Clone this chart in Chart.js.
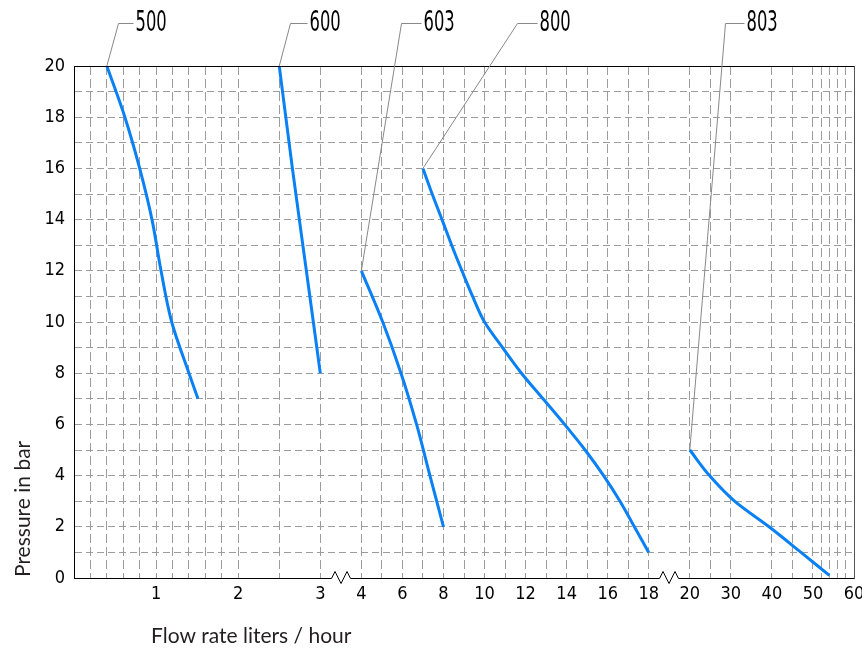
<!DOCTYPE html>
<html>
<head>
<meta charset="utf-8">
<script src="https://cdn.jsdelivr.net/npm/chart.js@4"></script>
<style>
  html, body { margin: 0; padding: 0; background: #fff; }
</style>
</head>
<body>
<canvas id="myChart" width="862" height="648"></canvas>
<script>
// curve data: flow rate (l/h) and pressure (bar)
const seriesNames = ["500", "600", "603", "800", "803"];
const flow500 = [0.4, 0.62, 0.8, 0.95, 1.06, 1.19, 1.4, 1.51];
const bar500 = [20, 18, 16, 14, 12, 10, 8, 7];
const flow600 = [2.5, 2.66, 2.83, 3];
const bar600 = [20, 16, 12, 8];
const flow603 = [4, 5.04, 5.93, 6.69, 7.34, 8];
const bar603 = [12, 10, 8, 6, 4, 2];
const flow800 = [7, 7.45, 7.93, 8.4, 8.9, 9.42, 10, 10.88, 11.8, 12.85, 13.9, 14.9, 15.8, 16.6, 17.3, 18];
const bar800 = [16, 15, 14, 13, 12, 11, 10, 9, 8, 7, 6, 5, 4, 3, 2, 1];
const flow803 = [20, 24.8, 30.9, 39.3, 47.1, 54];
const bar803 = [5, 4, 3, 2, 1, 0.1];

// axis ticks
const xGridValues = [0.2, 0.4, 0.6, 0.8, 1, 1.2, 1.4, 1.6, 1.8, 2, 2.5, 3,
  4, 5, 6, 7, 8, 9, 10, 11, 12, 13, 14, 15, 16, 17, 18,
  20, 25, 30, 40, 45, 50, 52, 54, 56, 58, 60];
const xTickLabels = [1, 2, 3, 4, 6, 8, 10, 12, 14, 16, 18, 20, 30, 40, 50, 60];
const yGridValues = [0, 1, 2, 3, 4, 5, 6, 7, 8, 9, 10, 11, 12, 13, 14, 15, 16, 17, 18, 19, 20];
const yTickLabels = [0, 2, 4, 6, 8, 10, 12, 14, 16, 18, 20];

// broken x axis: [from, to, position units per l/h]
const xSegments = [[0, 3, 4], [4, 18, 1], [20, 60, 0.2]];
const gap = 2;

const toPos = (v) => {
  let pos = 0;
  for (const [from, to, k] of xSegments) {
    if (v <= to) return pos + (v - from) * k;
    pos += (to - from) * k + gap;
  }
  return pos - gap;
};
const breakPos = [];
(() => {
  let pos = 0;
  xSegments.forEach(([from, to, k], i) => {
    pos += (to - from) * k;
    if (i < xSegments.length - 1) { breakPos.push(pos + gap / 2); pos += gap; }
  });
})();
const xMax = toPos(60);

const blue = "#0a80f5";
const tickFont = { family: "'Liberation Sans Narrow', 'DejaVu Sans Condensed', 'Liberation Sans', sans-serif", size: 18 };
const titleFont = "21px Lato, 'Open Sans', sans-serif";

const flows = [flow500, flow600, flow603, flow800, flow803];
const bars = [bar500, bar600, bar603, bar800, bar803];

// callout leader offsets (px)
const calloutDx = [11, 11, 40, 94, 35];
const calloutLen = [15, 17, 20, 20, 19];

const calloutPlugin = {
  id: "callouts",
  afterDraw(chart) {
    const { ctx, chartArea: a, scales: { x, y } } = chart;
    ctx.save();
    const top = Math.round(a.top) + 0.5;
    const bottom = Math.round(y.getPixelForValue(0)) + 0.5;
    const right = Math.round(a.right) + 0.5;
    const left = Math.round(a.left) + 0.5;

    // frame
    ctx.lineWidth = 1;
    ctx.strokeStyle = "#000";
    ctx.beginPath();
    ctx.moveTo(left, top);
    ctx.lineTo(right, top);
    ctx.stroke();
    ctx.strokeStyle = "#555";
    ctx.beginPath();
    ctx.moveTo(right, top);
    ctx.lineTo(right, bottom);
    ctx.stroke();

    // x axis with zigzag breaks
    ctx.strokeStyle = "#000";
    ctx.beginPath();
    ctx.moveTo(left, bottom);
    breakPos.forEach((p) => {
      const bx = Math.round(x.getPixelForValue(p));
      ctx.lineTo(bx - 9.5, bottom);
      ctx.lineTo(bx - 6, bottom - 7);
      ctx.lineTo(bx, bottom + 5);
      ctx.lineTo(bx + 6, bottom - 7);
      ctx.lineTo(bx + 9.5, bottom);
    });
    ctx.lineTo(right, bottom);
    ctx.stroke();

    // callouts
    const labelY = 23.5;
    ctx.font = "29px " + tickFont.family;
    ctx.textBaseline = "middle";
    ctx.fillStyle = "#000";
    seriesNames.forEach((name, i) => {
      const px = x.getPixelForValue(toPos(flows[i][0]));
      const py = y.getPixelForValue(bars[i][0]);
      const ex = Math.round(px + calloutDx[i]) + 0.5;
      const hx = ex + calloutLen[i];
      ctx.strokeStyle = "#888";
      ctx.lineWidth = 1;
      ctx.beginPath();
      ctx.moveTo(px, py);
      ctx.lineTo(ex, labelY);
      ctx.lineTo(hx, labelY);
      ctx.stroke();
      const w = ctx.measureText(name).width;
      const sx = (10.4 * name.length) / w;
      ctx.save();
      ctx.translate(hx + 2, labelY);
      ctx.scale(sx, 1);
      ctx.fillText(name, 0, 0);
      ctx.restore();
    });

    // axis titles
    ctx.font = titleFont;
    ctx.fillStyle = "#231f20";
    ctx.textBaseline = "alphabetic";
    ctx.textAlign = "left";
    ctx.fillText("Flow rate liters / hour", 151, 642.5);
    ctx.save();
    ctx.translate(30, 577);
    ctx.rotate(-Math.PI / 2);
    ctx.fillText("Pressure in bar", 0, 0);
    ctx.restore();
    ctx.restore();
  }
};

const ctx = document.getElementById("myChart");

const myChart = new Chart(ctx, {
  type: "line",
  data: {
    datasets: seriesNames.map((name, i) => ({
      label: name,
      data: flows[i].map((f, j) => ({ x: toPos(f), y: bars[i][j] })),
      borderColor: blue,
      borderWidth: 3,
      pointRadius: 0,
      indexAxis: "y",
      tension: 0.4,
      cubicInterpolationMode: "monotone",
      fill: false,
    })),
  },
  options: {
    responsive: false,
    animation: false,
    devicePixelRatio: 1,
    layout: { padding: { top: 66, right: 8, left: 0, bottom: 0 } },
    plugins: { legend: { display: false }, tooltip: { enabled: false } },
    scales: {
      x: {
        type: "linear",
        min: 0,
        max: xMax,
        afterBuildTicks: (scale) => {
          scale.ticks = xGridValues.map((v) => ({ value: toPos(v) }));
        },
        afterFit: (scale) => {
          scale.height = 70;
          scale.paddingLeft = 0;
          scale.paddingRight = 0;
        },
        ticks: {
          autoSkip: false,
          maxRotation: 0,
          padding: 6,
          color: "#000",
          font: tickFont,
          callback: (value) => {
            const v = xTickLabels.find((t) => Math.abs(toPos(t) - value) < 1e-6);
            return v === undefined ? "" : String(v);
          },
        },
        grid: { color: "#9c9c9c", lineWidth: 1, drawTicks: false },
        border: { display: false, dash: [9, 4] },
      },
      y: {
        type: "linear",
        min: 0,
        max: 20,
        afterBuildTicks: (scale) => {
          scale.ticks = yGridValues.map((v) => ({ value: v }));
        },
        afterFit: (scale) => { scale.width = 74; },
        ticks: {
          padding: 9,
          color: "#000",
          font: tickFont,
          callback: (value) => (yTickLabels.includes(value) ? String(value) : ""),
        },
        grid: {
          color: (c) => (c.tick && (c.tick.value === 0 || c.tick.value === 20) ? "rgba(0,0,0,0)" : "#9c9c9c"),
          lineWidth: 1,
          drawTicks: false,
        },
        border: { display: true, color: "#000", width: 1, dash: [7, 4] },
      },
    },
  },
  plugins: [calloutPlugin],
});
</script>
</body>
</html>
